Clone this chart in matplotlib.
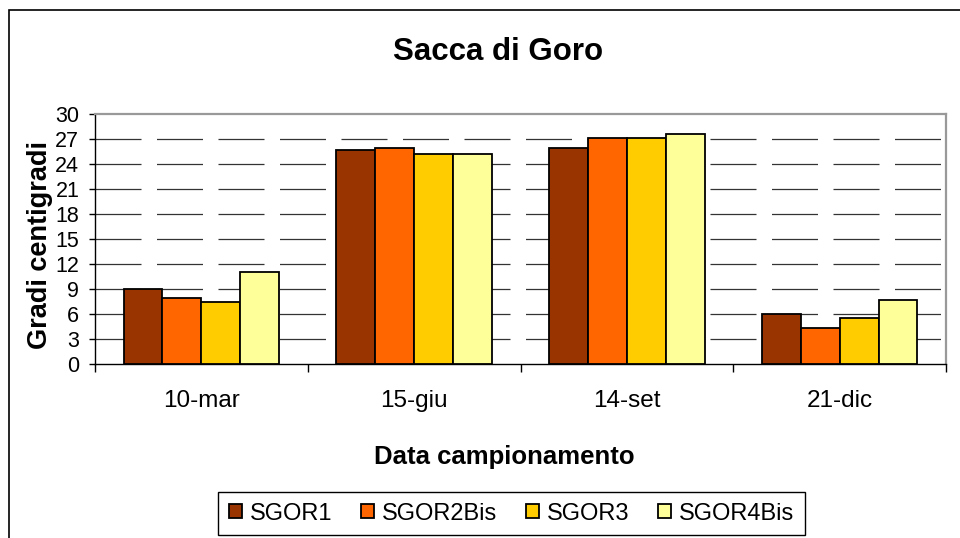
import matplotlib

matplotlib.use("Agg")
import matplotlib.pyplot as plt
import numpy as np
from matplotlib.patches import Rectangle

plt.rcParams["font.family"] = ["Liberation Sans", "DejaVu Sans"]

# dati (gradi centigradi)
dates = ["10-mar", "15-giu", "14-set", "21-dic"]
stations = ["SGOR1", "SGOR2Bis", "SGOR3", "SGOR4Bis"]
sgor1 = [9.0, 25.7, 25.9, 6.0]
sgor2bis = [7.9, 25.9, 27.1, 4.3]
sgor3 = [7.4, 25.2, 27.1, 5.5]
sgor4bis = [11.0, 25.2, 27.6, 7.7]
y_ticks = list(range(0, 31, 3))

colors = ["#993300", "#FF6600", "#FFCC00", "#FFFF99"]
series = [sgor1, sgor2bis, sgor3, sgor4bis]

W, H = 960, 538
fig = plt.figure(figsize=(W / 100, H / 100), dpi=100)
ax = fig.add_axes([95 / W, 1 - 364 / H, (946 - 95) / W, (364 - 114) / H])

x = np.arange(len(dates))
bw = 0.183
for i, (vals, col) in enumerate(zip(series, colors)):
    ax.bar(x + (i - 1.5) * bw, vals, width=bw, color=col, edgecolor="black",
           linewidth=1.3, label=stations[i], zorder=3)

ax.set_xlim(-0.5, len(dates) - 0.5)
ax.set_ylim(0, 30)
ax.set_yticks(y_ticks)
ax.tick_params(axis="y", labelsize=15.5, length=6 * 0.72, width=1, pad=7)

ax.set_xticks(x)
ax.set_xticklabels(dates)
ax.set_xticks(np.arange(-0.5, len(dates)), minor=True)
ax.tick_params(axis="x", which="major", length=0, labelsize=17.5, pad=19)
ax.tick_params(axis="x", which="minor", length=8 * 0.72, width=1)

# griglia tratteggiata come in Excel
for yv in y_ticks[1:-1]:
    ax.axhline(yv, color="#333333", linewidth=0.9,
               linestyle=(0, (46 * 0.72 / 0.9, 15.5 * 0.72 / 0.9)), zorder=1)

for side in ("top", "right"):
    ax.spines[side].set_color("#999999")
    ax.spines[side].set_linewidth(1.6)
for side in ("left", "bottom"):
    ax.spines[side].set_color("black")
    ax.spines[side].set_linewidth(1.0)

fig.text(498 / W, 1 - 60 / H, "Sacca di Goro", fontsize=22.5,
         fontweight="bold", ha="center", va="baseline")
fig.text(504 / W, 1 - 464 / H, "Data campionamento", fontsize=18.5,
         fontweight="bold", ha="center", va="baseline")
fig.text(40 / W, 1 - 245 / H, "Gradi centigradi", fontsize=19.5,
         fontweight="bold", ha="center", va="center", rotation=90)

leg = fig.legend(loc="center", bbox_to_anchor=(511.5 / W, 1 - 513.5 / H),
                 ncol=4, fontsize=17, frameon=True, fancybox=False,
                 edgecolor="black", framealpha=1, handlelength=0.55,
                 handleheight=0.55, handletextpad=0.35, columnspacing=1.2,
                 borderpad=0.45, borderaxespad=0)
leg.get_frame().set_linewidth(1.0)

# cornice esterna del grafico
fig.patches.append(Rectangle((9 / W, -0.1), 1.2, 1.1 - 10 / H,
                             transform=fig.transFigure, fill=False,
                             edgecolor="black", linewidth=1.2))

fig.savefig("out.png", dpi=100)
